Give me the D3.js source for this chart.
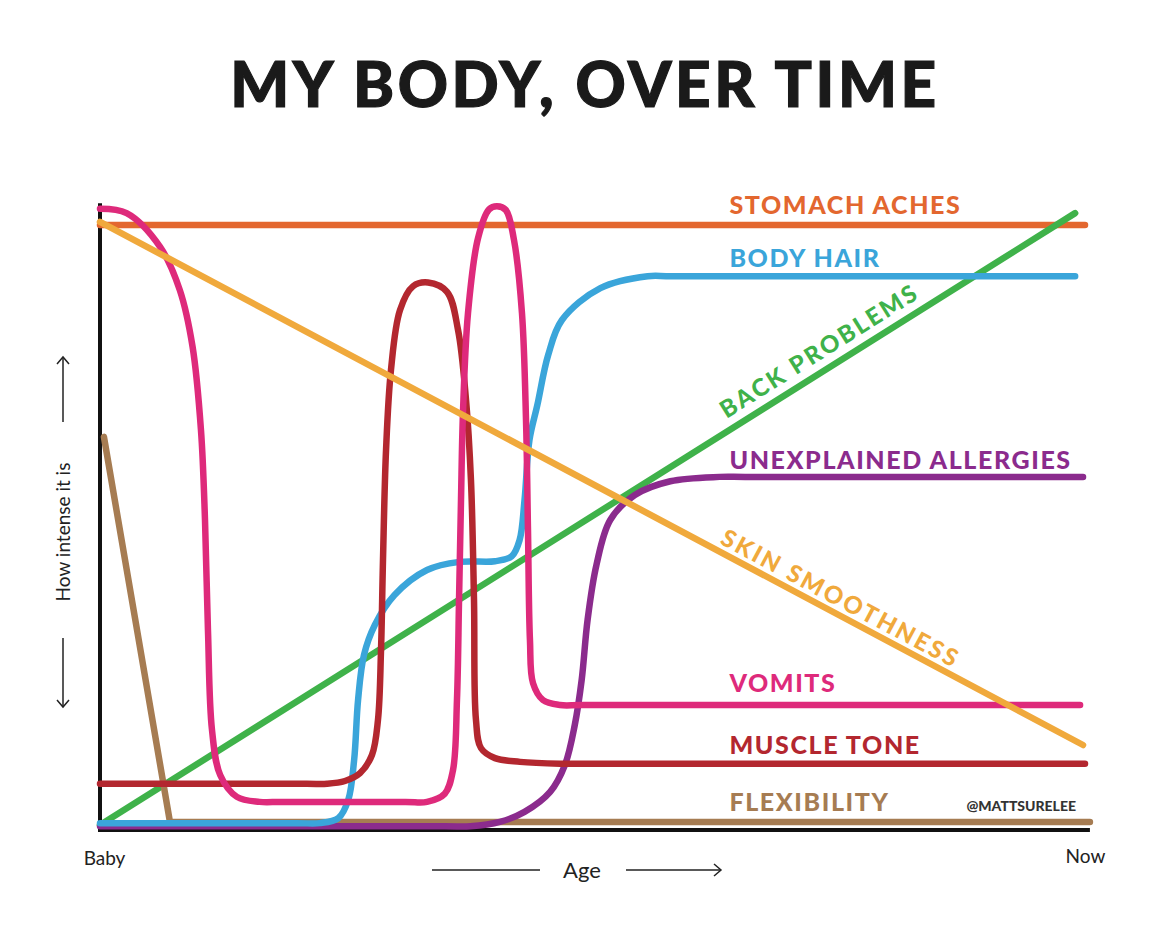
<!DOCTYPE html>
<html><head><meta charset="utf-8">
<script src="https://cdn.jsdelivr.net/npm/d3@7"></script>
<style>body{margin:0;background:#fff}svg{display:block}</style>
</head><body>
<svg id="chart" width="1170" height="938"></svg>
<script>
// ---------- DATA (age 0..100, intensity 0..100) ----------
const title = "MY BODY, OVER TIME";
const xTickValues = [0, 100];
const xTickLabels = ["Baby", "Now"];
const xAxisTitle = "Age";
const yAxisTitle = "How intense it is";
const credit = "@MATTSURELEE";

const seriesNames = ["STOMACH ACHES","BODY HAIR","BACK PROBLEMS","UNEXPLAINED ALLERGIES","SKIN SMOOTHNESS","VOMITS","MUSCLE TONE","FLEXIBILITY"];

const stomachAches = [[0,96.8],[100,96.8]];
const bodyHair = [[0,1.1],[20,1.1],[22.3,1.1],[24.2,1.9],[25.2,4.8],[25.8,11.2],[26.2,20.8],[26.8,28],[27.9,32.8],[29.9,37.6],[33.2,41.6],[36.5,42.9],[40.1,43],[41.8,43.8],[42.6,46.4],[43.1,52.8],[43.6,62.4],[44.4,68],[45.5,76],[46.9,81.6],[50.8,86.7],[55.6,88.6],[58,88.6],[99,88.6]];
const backProblems = [[0,0.8],[99,98.7]];
const unexplainedAllergies = [[0,0.6],[35,0.6],[37.6,0.6],[40.6,1.3],[43.1,2.9],[45.7,6.1],[47.2,10.4],[48.2,16.8],[48.9,24],[49.5,33.6],[50.4,42.4],[51.8,49.6],[54.3,53.6],[57.9,55.8],[62.9,56.5],[65.5,56.5],[99.8,56.5]];
const skinSmoothness = [[0,97.3],[99.8,13.6]];
const vomits = [[0,99.4],[2.7,98.7],[6.1,93.3],[8.1,86.4],[9.4,77.3],[10.25,64],[10.66,49.6],[10.96,32],[11.37,16],[12.2,8.8],[13.9,5.3],[16.2,4.5],[18.5,4.5],[31,4.5],[33.2,4.5],[35.0,5.8],[35.84,9.6],[36.24,20.8],[36.45,36.8],[36.65,52.8],[36.85,66.7],[37.36,82.7],[38.38,94.7],[39.5,99.3],[40.3,99.8],[41.2,99.2],[42.03,94.4],[42.84,82.7],[43.25,65.6],[43.45,48],[43.65,30.4],[43.96,23.5],[44.97,20.8],[46.7,20],[49,20],[99.5,20]];
const muscleTone = [[0,7.4],[21,7.4],[23.05,7.4],[24.87,7.84],[26.4,9.1],[27.61,12],[28.22,17.6],[28.53,28.8],[28.73,43.2],[29.04,60.8],[29.54,73.6],[30.46,83.2],[31.78,87],[33.3,87.6],[35.23,86.1],[36.35,80],[37.16,68.8],[37.66,56],[37.97,36.8],[38.17,17.6],[38.68,13.1],[40.1,11.5],[42.64,10.9],[46.7,10.6],[49,10.6],[100,10.6]];
const flexibility = [[0.4,62.9],[7.1,1.3],[100.5,1.3]];

// ---------- STYLES / LAYOUT ----------
const colors = {
  "STOMACH ACHES":"#e3672f","BODY HAIR":"#3aa5da","BACK PROBLEMS":"#3fb24a",
  "UNEXPLAINED ALLERGIES":"#8b2b8d","SKIN SMOOTHNESS":"#f0a93c","VOMITS":"#de2a7b",
  "MUSCLE TONE":"#b3272f","FLEXIBILITY":"#a67c52"
};
const seriesValues = {
  "STOMACH ACHES":stomachAches,"BODY HAIR":bodyHair,"BACK PROBLEMS":backProblems,
  "UNEXPLAINED ALLERGIES":unexplainedAllergies,"SKIN SMOOTHNESS":skinSmoothness,
  "VOMITS":vomits,"MUSCLE TONE":muscleTone,"FLEXIBILITY":flexibility
};
const straight = new Set(["STOMACH ACHES","BACK PROBLEMS","SKIN SMOOTHNESS","FLEXIBILITY"]);
const drawOrder = ["STOMACH ACHES","BACK PROBLEMS","FLEXIBILITY","UNEXPLAINED ALLERGIES","BODY HAIR","MUSCLE TONE","VOMITS","SKIN SMOOTHNESS"];

const svg = d3.select("#chart");
const x = d3.scaleLinear().domain([0,100]).range([100,1085]);
const y = d3.scaleLinear().domain([0,100]).range([830,205]);
const FONT = "Lato, 'Open Sans', sans-serif";

svg.append("rect").attr("width",1170).attr("height",938).attr("fill","#fff");

svg.append("text").attr("x",585).attr("y",107).attr("text-anchor","middle")
  .attr("font-family",FONT).attr("font-weight",900).attr("font-size",62)
  .attr("letter-spacing",3.6).attr("fill","#1a1a1a").attr("stroke","#1a1a1a").attr("stroke-width",1.2)
  .text(title);

const curvy = d3.line().x(d=>x(d[0])).y(d=>y(d[1])).curve(d3.curveCatmullRom.alpha(0.5));
const lin = d3.line().x(d=>x(d[0])).y(d=>y(d[1]));

// axes
const gx = svg.append("g").attr("transform",`translate(0,${y(0)})`)
  .call(d3.axisBottom(x).tickValues(xTickValues).tickFormat((d,i)=>xTickLabels[i]).tickSize(0).tickPadding(21).tickSizeOuter(0));
gx.select(".domain").attr("stroke","#111").attr("stroke-width",4).attr("d",`M${x(0)-2},0H${x(100.5)}`);
gx.selectAll("text").attr("font-family",FONT).attr("font-size",19).attr("fill","#222")
  .attr("dx",(d,i)=>i===0?4:0).attr("dy",(d,i)=>i===0?"0.75em":"0.65em");
const gy = svg.append("g").attr("transform",`translate(${x(0)},0)`)
  .call(d3.axisLeft(y).tickValues([]).tickSize(0).tickSizeOuter(0));
gy.select(".domain").attr("stroke","#111").attr("stroke-width",4).attr("d",`M0,${y(100.3)}V${y(0)+2}`);

drawOrder.forEach(name=>{
  svg.append("path").datum(seriesValues[name]).attr("d",straight.has(name)?lin:curvy)
    .attr("fill","none").attr("stroke",colors[name]).attr("stroke-width",6.5)
    .attr("stroke-linecap","round").attr("stroke-linejoin","round");
});

// horizontal labels
const labelX = x(63.9);
const flatLabels = [["STOMACH ACHES",11],["BODY HAIR",9],["UNEXPLAINED ALLERGIES",8],["VOMITS",13],["MUSCLE TONE",10],["FLEXIBILITY",11]];
flatLabels.forEach(([name,off])=>{
  const v = seriesValues[name];
  svg.append("text").attr("x",labelX).attr("y",y(v[v.length-1][1])-off)
    .attr("font-family",FONT).attr("font-weight",900).attr("font-size",25)
    .attr("letter-spacing",1.6).attr("fill",colors[name]).text(name);
});

// rotated labels along straight lines
function slantLabel(name, atX, off, ls){
  const v = seriesValues[name];
  const p0=[x(v[0][0]),y(v[0][1])], p1=[x(v[1][0]),y(v[1][1])];
  const ang = Math.atan2(p1[1]-p0[1], p1[0]-p0[0]);
  const px = x(atX), t=(px-p0[0])/(p1[0]-p0[0]);
  const py = p0[1]+t*(p1[1]-p0[1]);
  const nx = Math.sin(ang)*off, ny = -Math.cos(ang)*off;
  svg.append("text").attr("transform",`translate(${px+nx},${py+ny}) rotate(${ang*180/Math.PI})`)
    .attr("font-family",FONT).attr("font-weight",900).attr("font-size",24)
    .attr("letter-spacing",ls).attr("fill",colors[name]).text(name);
}
slantLabel("BACK PROBLEMS",64.2,11,2.4);
slantLabel("SKIN SMOOTHNESS",62.5,7,2.6);

svg.append("text").attr("x",1076).attr("y",811).attr("text-anchor","end")
  .attr("font-family",FONT).attr("font-weight",900).attr("font-size",14)
  .attr("fill","#333").text(credit);

// axis titles with arrows
const arrowG = svg.append("g").attr("stroke","#222").attr("stroke-width",1.5).attr("fill","none");
svg.append("text").attr("x",582).attr("y",878).attr("text-anchor","middle")
  .attr("font-family",FONT).attr("font-size",22).attr("fill","#222").text(xAxisTitle);
arrowG.append("line").attr("x1",432).attr("x2",540).attr("y1",870).attr("y2",870);
arrowG.append("line").attr("x1",626).attr("x2",721).attr("y1",870).attr("y2",870);
arrowG.append("path").attr("d","M714,864L721,870L714,876");

svg.append("text").attr("transform","translate(70,532) rotate(-90)").attr("text-anchor","middle")
  .attr("font-family",FONT).attr("font-size",19).attr("fill","#222").text(yAxisTitle);
arrowG.append("line").attr("x1",63).attr("x2",63).attr("y1",422).attr("y2",357);
arrowG.append("path").attr("d","M57,364L63,357L69,364");
arrowG.append("line").attr("x1",63).attr("x2",63).attr("y1",638).attr("y2",707);
arrowG.append("path").attr("d","M57,700L63,707L69,700");
</script>
</body></html>
